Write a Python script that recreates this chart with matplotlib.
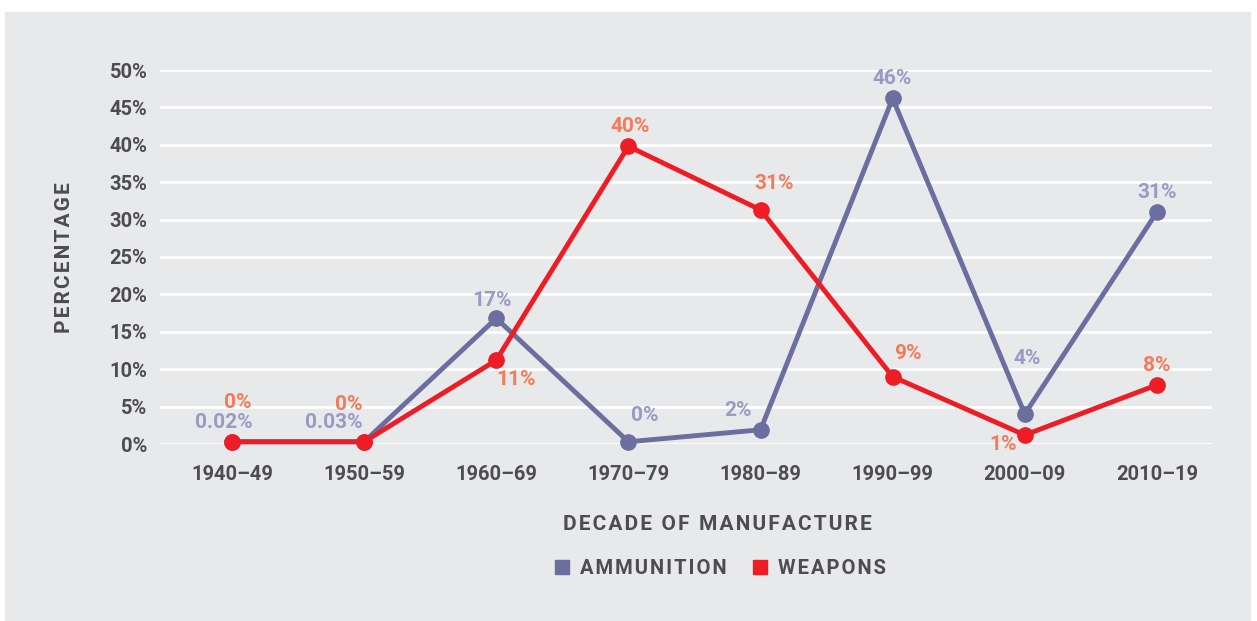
import matplotlib.pyplot as plt
from matplotlib.patches import Rectangle
from matplotlib.lines import Line2D

decades = ["1940–49", "1950–59", "1960–69", "1970–79",
           "1980–89", "1990–99", "2000–09", "2010–19"]
ammunition = [0.3, 0.3, 16.8, 0.3, 1.9, 46.2, 4.0, 31.0]
weapons = [0.3, 0.3, 11.2, 39.8, 31.3, 9.0, 1.2, 7.9]
ammo_labels = ["0.02%", "0.03%", "17%", "0%", "2%", "46%", "4%", "31%"]
weap_labels = ["0%", "0%", "11%", "40%", "31%", "9%", "1%", "8%"]
yticks = [0, 5, 10, 15, 20, 25, 30, 35, 40, 45, 50]

AMMO = "#6b6e9f"
WEAP = "#ee1c25"
AMMO_TXT = "#9c99c4"
WEAP_TXT = "#f47b5a"
DARK = "#4d4d4f"
BG = "#e8e9eb"

FONT = ["Roboto", "DejaVu Sans"]
plt.rcParams["font.family"] = FONT
plt.rcParams["font.weight"] = "bold"


def spaced(s):
    return "\u200a".join(s)


W, H = 1257, 621
fig = plt.figure(figsize=(W / 100, H / 100), dpi=100)
fig.patches.append(Rectangle((5 / W, 1 - 620 / H), 1245 / W, 608 / H,
                             transform=fig.transFigure, color=BG, zorder=-5))

ax = fig.add_axes([160 / W, 1 - 444 / H, 1052 / W, 374 / H])
ax.set_facecolor("none")
ax.set_xlim(-0.545, 7.417)
ax.set_ylim(0, 50)
for s in ax.spines.values():
    s.set_visible(False)
ax.set_yticks(yticks)
ax.set_yticklabels([f"{v}%" for v in yticks])
ax.set_xticks(range(len(decades)))
ax.set_xticklabels(decades)
ax.tick_params(length=0, labelsize=14.5, labelcolor=DARK)
ax.tick_params(axis="y", pad=9)
ax.tick_params(axis="x", pad=15)
ax.grid(axis="y", color="white", lw=2)
ax.set_axisbelow(True)

x = range(len(decades))
ax.plot(x, ammunition, color=AMMO, lw=3.5, marker="o", ms=11, clip_on=False, zorder=3)
ax.plot(x, weapons, color=WEAP, lw=3.5, marker="o", ms=11, clip_on=False, zorder=4)

# label offsets in points (dx, dy)
ammo_off = [(-6, 14), (-22, 14), (-3, 13), (11.5, 19), (-16, 14), (0, 14), (2, 40), (0, 14)]
weap_off = [(4, 28), (-11, 27), (14, -14), (1, 14), (10, 19), (11, 17), (-16, -7), (0, 14)]
for i in x:
    dx, dy = ammo_off[i]
    ax.annotate(ammo_labels[i], (i, ammunition[i]), xytext=(dx, dy),
                textcoords="offset points", ha="center", va="center",
                color=AMMO_TXT, fontsize=15, zorder=5)
    dx, dy = weap_off[i]
    ax.annotate(weap_labels[i], (i, weapons[i]), xytext=(dx, dy),
                textcoords="offset points", ha="center", va="center",
                color=WEAP_TXT, fontsize=15, zorder=5)

fig.text(65 / W, 1 - 258 / H, spaced("PERCENTAGE"), rotation=90, ha="center",
         va="center", color=DARK, fontsize=15)
fig.text(717 / W, 1 - 524 / H, spaced("DECADE OF MANUFACTURE"), ha="center",
         va="center", color=DARK, fontsize=15)

handles = [Line2D([], [], ls="", marker="s", ms=10, color=AMMO),
           Line2D([], [], ls="", marker="s", ms=10, color=WEAP)]
fig.legend(handles, [spaced("AMMUNITION"), spaced("WEAPONS")], ncol=2,
           loc="center", bbox_to_anchor=(719 / W, 1 - 569 / H), frameon=False,
           handletextpad=0.35, columnspacing=1.2, handlelength=1,
           prop={"family": FONT, "size": 14.5, "weight": "bold"},
           labelcolor=DARK)

fig.savefig("out.png", dpi=100)
